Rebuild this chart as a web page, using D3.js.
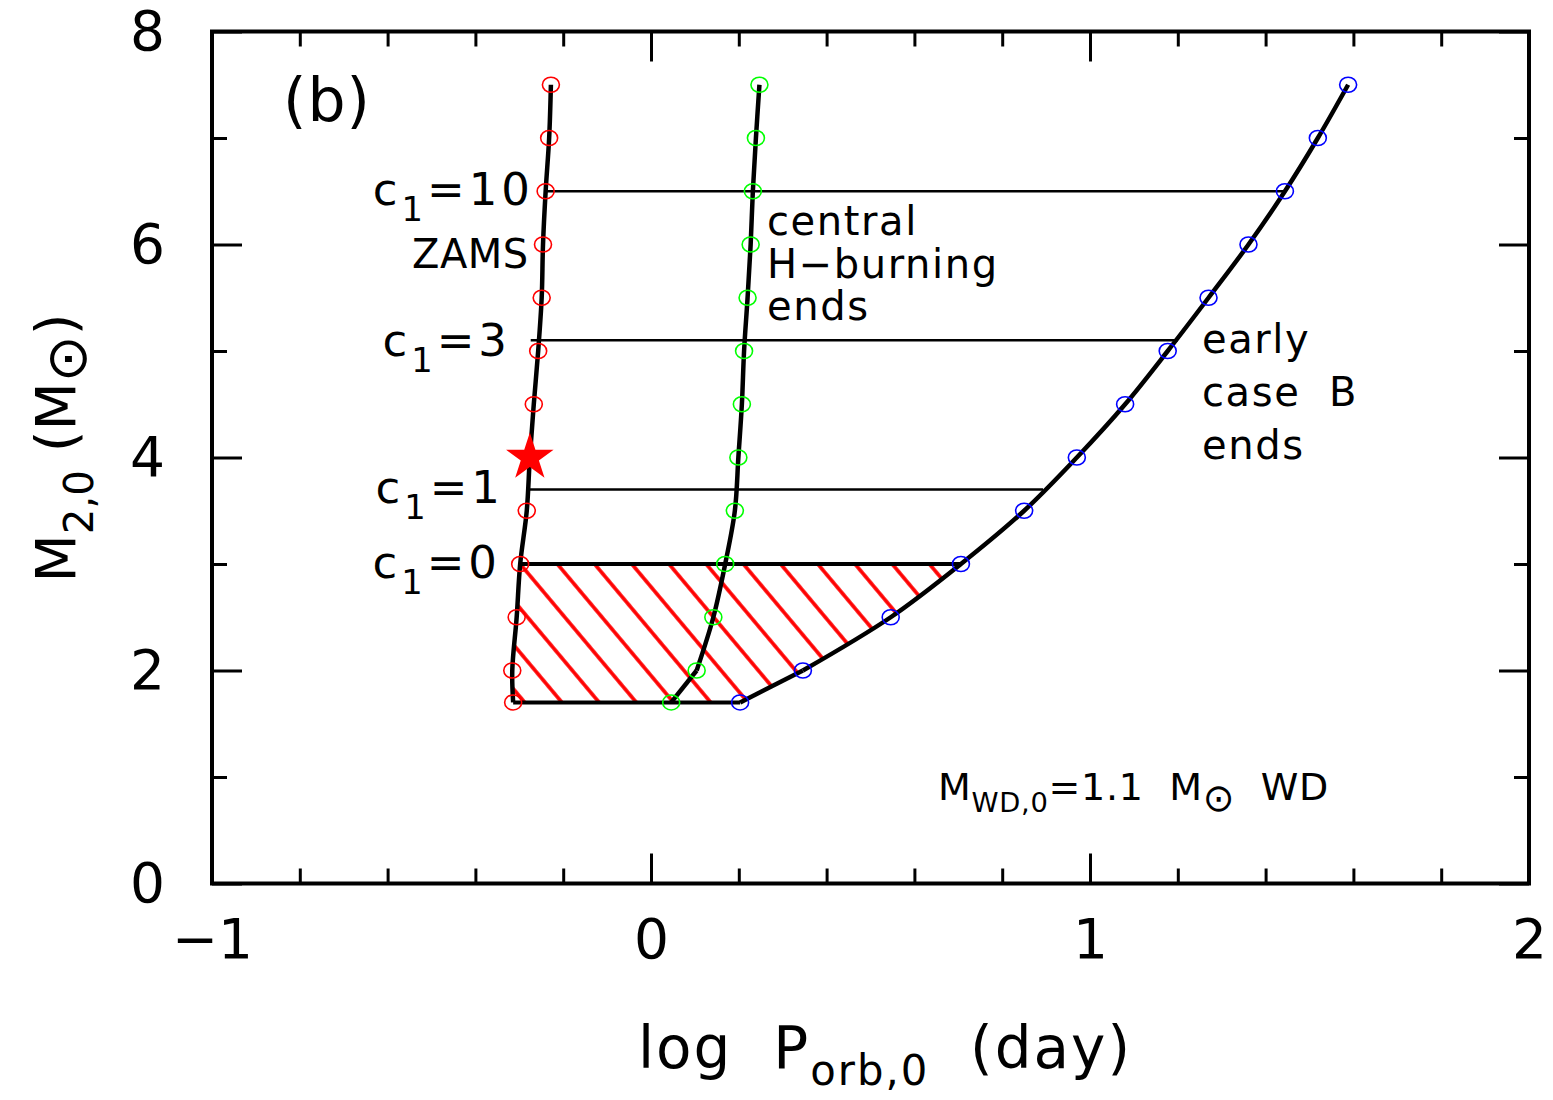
<!DOCTYPE html>
<html><head><meta charset="utf-8">
<script src="https://cdn.jsdelivr.net/npm/d3@7"></script>
<style>
body{margin:0;background:#fff}
svg{display:block}
text{font-family:"DejaVu Sans",sans-serif;fill:#000}
</style>
</head><body>
<svg id="chart" width="1553" height="1100"></svg>
<script>
// ---------------- data ----------------
const massGrid   = [1.7, 2.0, 2.5, 3.0, 3.5, 4.0, 4.5, 5.0, 5.5, 6.0, 6.5, 7.0, 7.5];
const zamsLogP   = [-0.314, -0.316, -0.306, -0.298, -0.283, -0.276, -0.267, -0.257, -0.249, -0.246, -0.240, -0.232, -0.228];
const hEndLogP   = [0.046, 0.104, 0.142, 0.169, 0.191, 0.199, 0.207, 0.212, 0.220, 0.227, 0.232, 0.239, 0.247];
const caseBLogP  = [0.203, 0.346, 0.546, 0.706, 0.850, 0.970, 1.080, 1.177, 1.270, 1.361, 1.444, 1.519, 1.588];
const c1Values   = ["10", "3", "1", "0"];
const c1Mass     = [6.5, 5.1, 3.7, 3.0];
const c1LogPStart= [-0.238, -0.274, -0.276, -0.298];
const c1LogPEnd  = [1.444, 1.200, 0.893, 0.706];
const starLogP   = [-0.276];
const starMass   = [4.0];
const xTicks     = [-1, 0, 1, 2];
const xTickLabels= ["\u22121", "0", "1", "2"];
const yTicks     = [0, 2, 4, 6, 8];
const yTickLabels= ["0", "2", "4", "6", "8"];
const xMinorTicks= d3.range(-1, 2.0001, 0.2).map(v => +v.toFixed(1));
const yMinorTicks= [1, 3, 5, 7];

// ---------------- layout ----------------
const L = 212, R = 1529, T = 31.5, B = 883.5;
const x = d3.scaleLinear().domain([-1, 2]).range([L, R]);
const y = d3.scaleLinear().domain([0, 8]).range([B, T]);
const svg = d3.select("#chart");

const pts = arr => massGrid.map((m, i) => [arr[i], m]);
const zams = pts(zamsLogP), hEnd = pts(hEndLogP), caseB = pts(caseBLogP);
const line = (curve) => d3.line().x(d => x(d[0])).y(d => y(d[1])).curve(curve);

// ---------------- hatch ----------------
const defs = svg.append("defs");
const pat = defs.append("pattern").attr("id", "hatch")
  .attr("patternUnits", "userSpaceOnUse").attr("width", 28.5).attr("height", 60)
  .attr("patternTransform", `translate(${x(zamsLogP[3])},${y(3)}) rotate(-40)`);
pat.append("line").attr("x1", 0).attr("y1", -10).attr("x2", 0).attr("y2", 70)
  .attr("stroke", "#ff0000").attr("stroke-width", 3.6);
pat.append("line").attr("x1", 28.5).attr("y1", -10).attr("x2", 28.5).attr("y2", 70)
  .attr("stroke", "#ff0000").attr("stroke-width", 3.6);

const lowZ = zams.filter(d => d[1] <= 3);
const lowB = caseB.filter(d => d[1] <= 3).reverse();
const region = lowZ.concat(lowB);
svg.append("path").attr("d", line(d3.curveLinear)(region) + "Z")
  .attr("fill", "url(#hatch)").attr("stroke", "none");

// ---------------- axes ----------------
const axG = svg.append("g").attr("class", "axes");
function styleAxis(g) {
  g.select(".domain").remove();
  g.selectAll(".tick line").attr("stroke", "#000").attr("stroke-width", 3);
  g.selectAll(".tick text").attr("font-size", 55).attr("font-family", '"DejaVu Sans",sans-serif').attr("fill", "#000");
}
axG.append("g").attr("transform", `translate(0,${B})`)
  .call(d3.axisBottom(x).tickValues(xMinorTicks).tickSize(-15).tickFormat(""))
  .call(styleAxis);
axG.append("g").attr("transform", `translate(0,${B})`)
  .call(d3.axisBottom(x).tickValues(xTicks).tickSize(-30).tickPadding(35)
        .tickFormat((d, i) => xTickLabels[i]))
  .call(styleAxis);
axG.append("g").attr("transform", `translate(0,${T})`)
  .call(d3.axisTop(x).tickValues(xMinorTicks).tickSize(-15).tickFormat(""))
  .call(styleAxis);
axG.append("g").attr("transform", `translate(0,${T})`)
  .call(d3.axisTop(x).tickValues(xTicks).tickSize(-30).tickFormat(""))
  .call(styleAxis);
axG.append("g").attr("transform", `translate(${L},0)`)
  .call(d3.axisLeft(y).tickValues(yMinorTicks).tickSize(-15).tickFormat(""))
  .call(styleAxis);
axG.append("g").attr("transform", `translate(${L},0)`)
  .call(d3.axisLeft(y).tickValues(yTicks).tickSize(-30).tickPadding(47)
        .tickFormat((d, i) => yTickLabels[i]))
  .call(styleAxis);
axG.append("g").attr("transform", `translate(${R},0)`)
  .call(d3.axisRight(y).tickValues(yMinorTicks).tickSize(-15).tickFormat(""))
  .call(styleAxis);
axG.append("g").attr("transform", `translate(${R},0)`)
  .call(d3.axisRight(y).tickValues(yTicks).tickSize(-30).tickFormat(""))
  .call(styleAxis);

svg.append("rect").attr("x", L).attr("y", T).attr("width", R - L).attr("height", B - T)
  .attr("fill", "none").attr("stroke", "#000").attr("stroke-width", 4);

// ---------------- c1 lines ----------------
svg.selectAll("line.c1").data(c1Mass).enter().append("line").attr("class", "c1")
  .attr("x1", (d, i) => x(c1LogPStart[i])).attr("x2", (d, i) => x(c1LogPEnd[i]))
  .attr("y1", d => y(d)).attr("y2", d => y(d))
  .attr("stroke", "#000").attr("stroke-width", (d, i) => c1Values[i] === "0" ? 4 : 2.5);

// bottom edge at lowest mass
svg.append("line")
  .attr("x1", x(zamsLogP[0])).attr("x2", x(caseBLogP[0]))
  .attr("y1", y(massGrid[0])).attr("y2", y(massGrid[0]))
  .attr("stroke", "#000").attr("stroke-width", 4);

// ---------------- curves ----------------
const curveStyle = p => p.attr("fill", "none").attr("stroke", "#000").attr("stroke-width", 4.5)
  .attr("stroke-linejoin", "round");
svg.append("path").attr("d", line(d3.curveCatmullRom)(zams)).call(curveStyle);
svg.append("path").attr("d", line(d3.curveLinear)(hEnd.slice(0, 2))).call(curveStyle);
svg.append("path").attr("d", line(d3.curveCatmullRom)(hEnd.slice(1))).call(curveStyle);
svg.append("path").attr("d", line(d3.curveLinear)(caseB.slice(0, 2))).call(curveStyle);
svg.append("path").attr("d", line(d3.curveCatmullRom)(caseB.slice(1))).call(curveStyle);

// ---------------- circles ----------------
function circles(data, color) {
  svg.append("g").selectAll("ellipse").data(data).enter().append("ellipse")
    .attr("cx", d => x(d[0])).attr("cy", d => y(d[1]))
    .attr("rx", 8.5).attr("ry", 7.5)
    .attr("fill", "none").attr("stroke", color).attr("stroke-width", 1.6);
}
circles(zams, "#ff0000");
circles(hEnd, "#00ff00");
circles(caseB, "#0000ff");

// ---------------- star ----------------
svg.selectAll("path.star").data(starMass).enter().append("path").attr("class", "star")
  .attr("d", d3.symbol(d3.symbolStar).size(700))
  .attr("transform", (d, i) => `translate(${x(starLogP[i])},${y(d)})`)
  .attr("fill", "#ff0000");

// ---------------- texts ----------------
function addText(px, py, parts, size, anchor, ls) {
  const t = svg.append("text").attr("x", px).attr("y", py).attr("font-size", size)
    .attr("text-anchor", anchor || "start").style("white-space", "pre");
  if (ls) t.attr("letter-spacing", ls);
  parts.forEach(p => {
    const s = t.append("tspan").text(p.t);
    if (p.size) s.attr("font-size", size * p.size);
    if (p.dy) s.attr("dy", size * p.dy);
  });
  return t;
}
// c1 labels
const c1LabelPos = [[534, 205], [511, 356], [504, 503], [501, 578]];
c1Values.forEach((v, i) => {
  addText(c1LabelPos[i][0], c1LabelPos[i][1],
    [{t: "c"}, {t: "1", size: 0.75, dy: 0.36}, {t: "=" + v, dy: -0.36}], 45, "end", 4);
});
addText(412, 268, [{t: "ZAMS"}], 40, "start", 0.5);
addText(767, 235, [{t: "central"}], 40, "start", 1.6);
addText(767, 278, [{t: "H\u2212burning"}], 40, "start", 1.6);
addText(767, 320, [{t: "ends"}], 40, "start", 1.6);
addText(1202, 353, [{t: "early"}], 40, "start", 1.6);
addText(1202, 406, [{t: "case  B"}], 40, "start", 1.6);
addText(1202, 459, [{t: "ends"}], 40, "start", 1.6);
addText(283, 121, [{t: "(b)"}], 60, "start", 1);
addText(938, 800, [{t: "M"}, {t: "WD,0", size: 0.72, dy: 0.32}, {t: "=1.1  M", dy: -0.32},
                   {t: "\u2299", size: 1.0, dy: 0.3}, {t: "  WD", dy: -0.3}], 38, "start", 0.7);

// axis titles
addText(885, 1068, [{t: "log  P"}, {t: "orb,0", size: 0.72, dy: 0.3}, {t: "  (day)", dy: -0.3}], 58, "middle", 2);
const yt = svg.append("text").attr("transform", "translate(75,448) rotate(-90)")
  .attr("font-size", 56).attr("text-anchor", "middle").style("white-space", "pre");
yt.append("tspan").text("M");
yt.append("tspan").text("2,0").attr("font-size", 56 * 0.72).attr("dy", 56 * 0.32);
yt.append("tspan").text(" (M").attr("dy", -56 * 0.32);
yt.append("tspan").text("\u2299").attr("font-size", 56).attr("dy", 56 * 0.2);
yt.append("tspan").text(")").attr("dy", -56 * 0.2);
</script>
</body></html>
